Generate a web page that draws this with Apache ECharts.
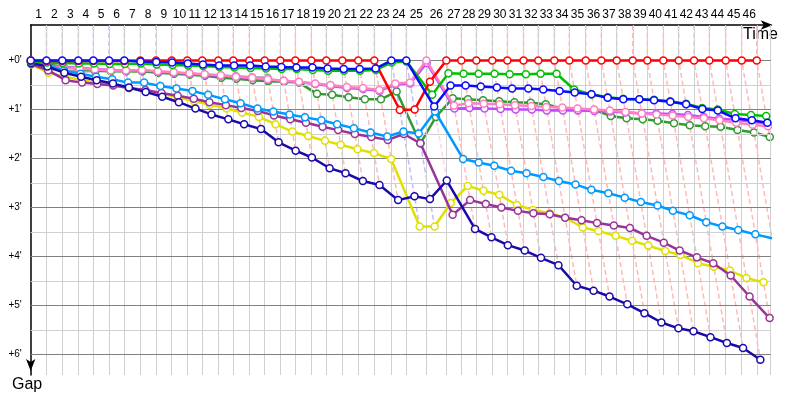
<!DOCTYPE html>
<html><head><meta charset="utf-8">
<script src="https://cdn.jsdelivr.net/npm/echarts@6/dist/echarts.min.js"></script>
<style>html,body{margin:0;padding:0;background:#fff}#c{width:800px;height:400px}</style>
</head><body><div id="c"></div>
<script>
// ---- DATA ----
// lap numbers shown on the top axis
const lapLabels = ['1','2','3','4','5','6','7','8','9','10','11','12','13','14','15','16','17','18','19','20','21','22','23','24','25','26','27','28','29','30','31','32','33','34','35','36','37','38','39','40','41','42','43','44','45','46'];
// race time of the leader at the end of each lap (minutes), lap 0..46
const leaderTime = [0,1.89,3.78,5.70,7.50,9.38,11.21,13.13,15.01,16.89,18.75,20.55,22.47,24.26,26.18,28.02,29.89,31.69,33.60,35.40,37.32,39.23,41.15,43.19,44.98,47.38,49.77,51.57,53.37,55.28,57.08,59.02,60.79,62.71,64.50,66.47,68.34,70.18,72.10,73.84,75.76,77.60,79.44,81.27,83.23,85.15,86.95];
// gap ticks (minutes)
const gapTicks = [0,1,2,3,4,5,6];
const gapTickLabels = ["+0'","+1'","+2'","+3'","+4'","+5'","+6'"];
const gapMinorTicks = [0.5,1.5,2.5,3.5,4.5,5.5];

// gap to the leader at the end of each lap (minutes), lap 0..last lap
const gapGray   = [0.06,0.17,0.20,0.22,0.22,0.21,0.22,0.22,0.24,0.25,0.27,0.29,0.31,0.32,0.34,0.35];
const gapDkGreen= [0.03,0.08,0.12,0.17,0.20,0.22,0.22,0.22,0.25,0.27,0.29,0.31,0.35,0.37,0.40,0.42,0.43,0.45,0.68,0.70,0.75,0.79,0.79,0.63,1.69,1.15,0.77,0.79,0.81,0.83,0.85,0.86,0.89,0.98,1.00,1.01,1.13,1.18,1.20,1.23,1.28,1.32,1.34,1.35,1.42,1.47,1.56];
const gapViolet = [0.05,0.10,0.13,0.15,0.17,0.19,0.20,0.20,0.23,0.25,0.27,0.29,0.31,0.33,0.36,0.39,0.41,0.44,0.48,0.52,0.56,0.58,0.62,0.49,0.47,0.05,0.98,0.97,0.98,0.99,1.00,1.00,1.02,1.02,1.02,1.03,1.04,1.06,1.08,1.08,1.09,1.11,1.15,1.19,1.21,1.25,1.28];
const gapPink   = [0.04,0.12,0.14,0.16,0.18,0.20,0.20,0.19,0.22,0.24,0.26,0.28,0.30,0.33,0.35,0.38,0.41,0.43,0.47,0.50,0.54,0.56,0.60,0.47,0.45,0.00,0.92,0.87,0.88,0.89,0.91,0.93,0.95,0.96,0.98,1.00,1.02,1.05,1.08,1.10,1.12,1.15,1.18,1.22,1.27,1.31,1.34];
const gapYellow = [0.08,0.25,0.33,0.40,0.45,0.50,0.56,0.62,0.68,0.75,0.83,0.90,0.98,1.06,1.15,1.30,1.45,1.54,1.64,1.72,1.81,1.89,2.01,3.39,3.39,2.91,2.56,2.66,2.74,2.95,3.05,3.12,3.21,3.41,3.48,3.58,3.68,3.78,3.89,3.97,4.14,4.21,4.29,4.44,4.53];
const gapPurple = [0.07,0.20,0.40,0.45,0.48,0.51,0.56,0.60,0.66,0.72,0.78,0.85,0.91,0.97,1.03,1.12,1.20,1.27,1.35,1.42,1.50,1.56,1.62,1.50,1.69,3.15,2.85,2.93,3.00,3.07,3.12,3.14,3.21,3.26,3.32,3.37,3.42,3.58,3.72,3.88,4.02,4.14,4.39,4.82,5.26];
const gapSky    = [0.06,0.10,0.20,0.27,0.33,0.38,0.45,0.45,0.52,0.57,0.62,0.70,0.79,0.87,0.98,1.04,1.10,1.16,1.22,1.30,1.38,1.47,1.55,1.45,1.49,1.04,2.01,2.08,2.15,2.25,2.30,2.38,2.46,2.53,2.64,2.71,2.80,2.89,2.96,3.07,3.16,3.30,3.39,3.46,3.55,3.63];
const gapNavy   = [0.05,0.12,0.25,0.33,0.40,0.47,0.55,0.64,0.74,0.85,0.98,1.10,1.20,1.30,1.40,1.67,1.84,1.98,2.20,2.30,2.46,2.54,2.85,2.77,2.83,2.45,3.44,3.61,3.77,3.88,4.03,4.18,4.60,4.70,4.82,4.98,5.16,5.35,5.47,5.53,5.65,5.77,5.87,6.11];
const gapGreen  = [0.02,0.04,0.05,0.06,0.06,0.07,0.07,0.06,0.08,0.09,0.10,0.11,0.13,0.14,0.15,0.16,0.17,0.17,0.19,0.21,0.21,0.21,0.19,0.04,0.02,0.70,0.26,0.27,0.27,0.27,0.28,0.28,0.27,0.27,0.59,0.69,0.75,0.78,0.79,0.80,0.83,0.88,0.97,1.00,1.09,1.11,1.13];
const gapRed    = [0.00,0.01,0.01,0.01,0.01,0.01,0.01,0.00,0.00,0.00,0.00,0.00,0.00,0.00,0.00,0.00,0.00,0.00,0.00,0.00,0.00,0.00,0.00,1.01,1.00,0.43,0.00,0.00,0.00,0.00,0.00,0.00,0.00,0.00,0.00,0.00,0.00,0.00,0.00,0.00,0.00,0.00,0.00,0.00,0.00,0.00,0.00];
const gapBlue   = [0.00,0.00,0.00,0.00,0.00,0.00,0.00,0.02,0.03,0.04,0.06,0.08,0.10,0.10,0.10,0.12,0.13,0.14,0.14,0.16,0.17,0.17,0.16,0.00,0.00,0.94,0.51,0.51,0.53,0.55,0.57,0.57,0.59,0.62,0.65,0.69,0.76,0.79,0.79,0.81,0.84,0.89,0.99,1.02,1.18,1.22,1.27];

// ---- STYLE ----
const drivers = [
  {gaps: gapGray,    color:'#a0a0a0', dash:'rgba(160,160,160,0.4)'},
  {gaps: gapDkGreen, color:'#339933', dash:'rgba(51,153,51,0.35)'},
  {gaps: gapViolet,  color:'#c04cff', dash:'rgba(192,76,255,0.35)'},
  {gaps: gapPink,    color:'#ff80c0', dash:'rgba(255,128,192,0.35)'},
  {gaps: gapYellow,  color:'#e0e000', dash:'rgba(224,224,0,0.4)'},
  {gaps: gapPurple,  color:'#993399', dash:'rgba(153,51,153,0.35)'},
  {gaps: gapSky,     color:'#0099ff', dash:'rgba(0,153,255,0.35)'},
  {gaps: gapNavy,    color:'#1a0aaa', dash:'rgba(26,10,170,0.35)'},
  {gaps: gapGreen,   color:'#00c000', dash:'rgba(0,192,0,0.35)'},
  {gaps: gapRed,     color:'#ff0000', dash:'rgba(255,70,70,0.38)'},
  {gaps: gapBlue,    color:'#0a0aff', dash:'rgba(70,70,255,0.35)'}
];

const X_MAX = 88.62, Y_MIN = -0.727, Y_MAX = 6.423;
const lapMids = leaderTime.slice(1).map((t,i)=>(t+leaderTime[i])/2);

const series = [];
// grid lines
const gridLines = [];
leaderTime.slice(1).forEach(t=>gridLines.push({xAxis:t, lineStyle:{color:'#d0d0d0',width:1,type:'solid'}}));
gridLines.push({xAxis:X_MAX, lineStyle:{color:'#d0d0d0',width:1,type:'solid'}});
gapMinorTicks.forEach(v=>gridLines.push({yAxis:v, lineStyle:{color:'#d0d0d0',width:1,type:'solid'}}));
gapTicks.forEach(v=>gridLines.push({yAxis:v, lineStyle:{color:'#808080',width:1,type:'solid'}}));
series.push({type:'line', data:[[0,0]], showSymbol:false, lineStyle:{opacity:0}, silent:true, z:1,
  markLine:{silent:true, symbol:['none','none'], label:{show:false}, animation:false, data:gridLines}});

// lap lines (dashed, coloured by leader)
for (let n=1; n<leaderTime.length; n++) {
  let gmax = 0, leader = null, gmin = Infinity;
  drivers.forEach(d=>{
    if (n < d.gaps.length) {
      const g = d.gaps[n];
      if (g > gmax) gmax = g;
      if (g < gmin) { gmin = g; leader = d; }
    }
  });
  const T = leaderTime[n];
  series.push({type:'line', silent:true, z:2, symbol:'none',
    data:[[T,Y_MIN],[T,0],[T+gmax,gmax]],
    lineStyle:{color:leader.dash, width:1.5, type:[5,3]}});
}

// drivers
drivers.forEach((d,i)=>{
  series.push({type:'line', silent:true, z:3+i,
    data:d.gaps.map((g,n)=>[leaderTime[n]+g, g]),
    symbol:'circle', symbolSize:7, showSymbol:true,
    itemStyle:{color:'#ffffff', borderColor:d.color, borderWidth:1.5},
    lineStyle:{color:d.color, width:2.5}});
});

const chart = echarts.init(document.getElementById('c'), null, {renderer:'canvas'});
chart.setOption({
  animation:false,
  backgroundColor:'#ffffff',
  grid:{left:30.7, top:25, right:29.3, bottom:25},
  xAxis:{type:'value', position:'top', min:0, max:X_MAX,
    axisLine:{show:true, onZero:false, lineStyle:{color:'#000', width:1.5}, symbol:['none','arrow'], symbolSize:[7,12], symbolOffset:[0,2]},
    axisTick:{show:false}, splitLine:{show:false},
    axisLabel:{show:true, customValues:lapMids, margin:4, color:'#000', fontSize:12, fontFamily:'Liberation Sans',
      formatter:(v)=>{let bi=0,bd=Infinity; lapMids.forEach((m,i)=>{const dd=Math.abs(m-v); if(dd<bd){bd=dd;bi=i;}}); return lapLabels[bi];}}
  },
  yAxis:{type:'value', inverse:true, min:Y_MIN, max:Y_MAX,
    axisLine:{show:true, onZero:false, lineStyle:{color:'#000', width:1.5}, symbol:['arrow','none'], symbolSize:[7,12], symbolOffset:[4,0]},
    axisTick:{show:false}, splitLine:{show:false},
    axisLabel:{show:true, customValues:gapTicks, margin:9, color:'#000', fontSize:10, fontFamily:'Liberation Sans',
      formatter:(v)=>{const i=gapTicks.indexOf(Math.round(v)); return gapTickLabels[i];}}
  },
  graphic:[
    {type:'text', left:743, top:27, style:{text:'Time', font:'16px "Liberation Sans"', fill:'#000'}},
    {type:'text', left:12, top:377, style:{text:'Gap', font:'16px "Liberation Sans"', fill:'#000'}}
  ],
  series:series
});
</script>
</body></html>
